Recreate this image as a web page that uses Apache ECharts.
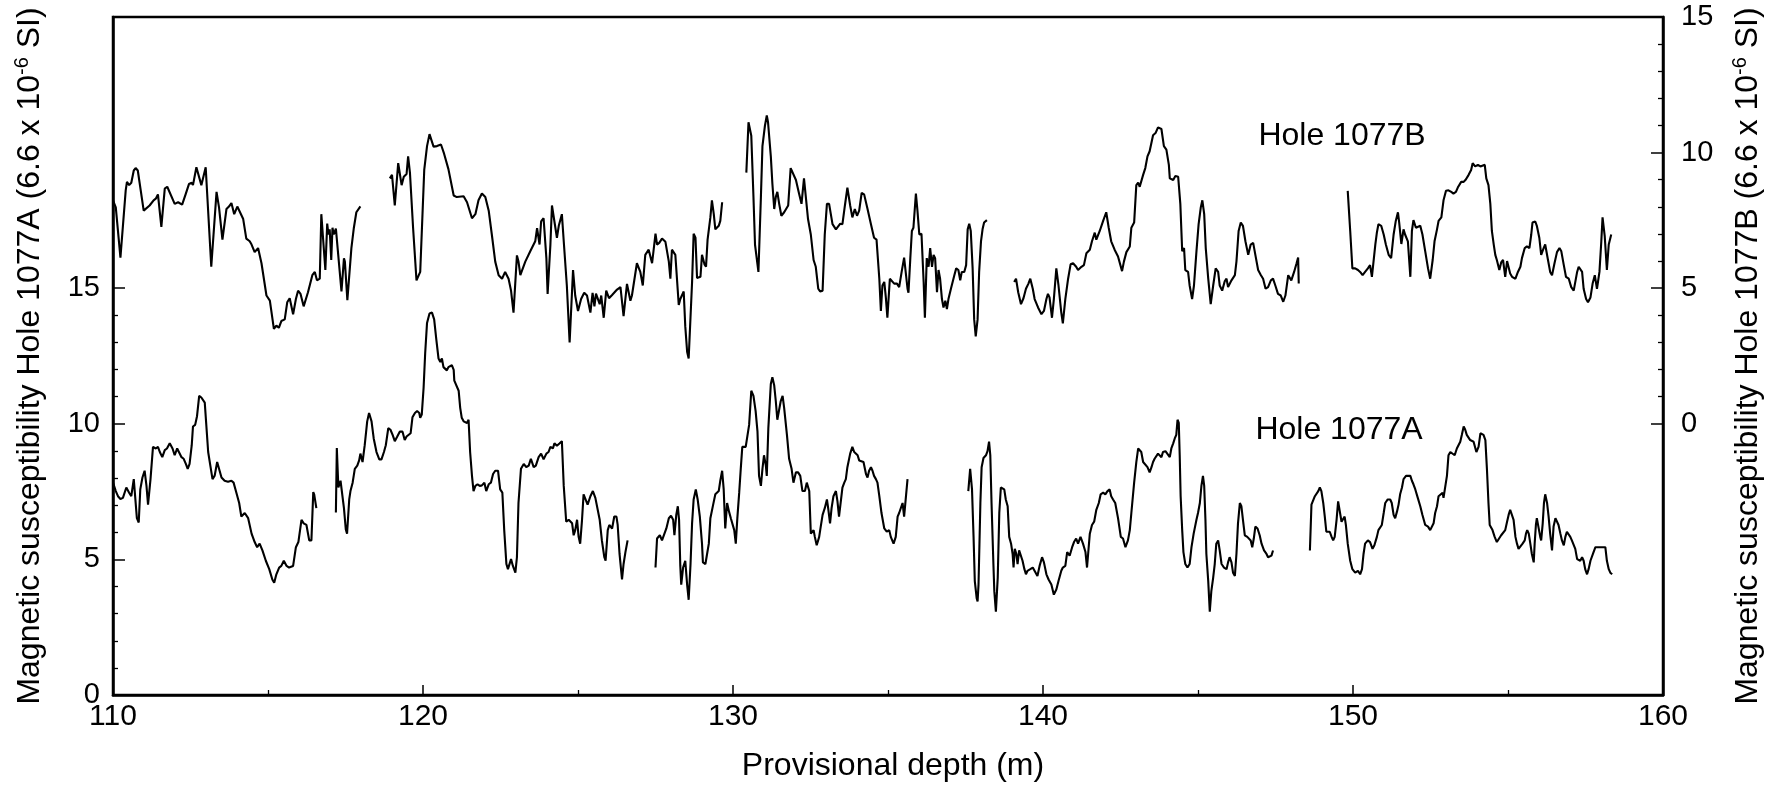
<!DOCTYPE html>
<html><head><meta charset="utf-8">
<script src="https://cdn.jsdelivr.net/npm/echarts@6/dist/echarts.min.js"></script>
<style>html,body{margin:0;padding:0;background:#fff}#c{width:1773px;height:791px}</style>
</head><body><div id="c"></div>
<script>
// ---- Axis ticks / labels ----
const xMajorTicks = [110, 120, 130, 140, 150, 160];
const yLabelTicks = [0, 5, 10, 15];
const yMinorTicks = [1, 2, 3, 4, 6, 7, 8, 9, 11, 12, 13, 14];
const labelHoleA = 'Hole 1077A';
const labelHoleB = 'Hole 1077B';

// ---- Hole 1077B (right axis), [depth m, susceptibility] per core segment ----
const holeB_seg1 = [[110.00,8.24],[110.09,7.98],[110.24,6.13],[110.30,6.17],[110.41,8.61],[110.45,8.92],[110.52,8.80],[110.59,8.89],[110.67,9.34],[110.73,9.43],[110.80,9.34],[110.86,9.36],[110.99,7.86],[111.18,8.05],[111.31,8.24],[111.38,8.30],[111.45,8.46],[111.56,7.26],[111.67,8.67],[111.75,8.74],[111.99,8.11],[112.10,8.17],[112.23,8.08],[112.35,8.49],[112.45,8.84],[112.54,8.89],[112.58,8.80],[112.69,9.46],[112.74,9.43],[112.85,8.80],[112.99,9.46],[113.17,5.79],[113.34,8.55],[113.42,7.98],[113.53,6.79],[113.66,7.92],[113.74,8.01],[113.82,8.14],[113.91,7.73],[114.01,8.01],[114.20,7.55],[114.30,6.83],[114.41,6.73],[114.47,6.61],[114.57,6.33],[114.68,6.48],[114.79,5.92],[114.95,4.73],[115.06,4.54],[115.19,3.50],[115.27,3.62],[115.35,3.54],[115.43,3.79],[115.54,3.85],[115.62,4.48],[115.70,4.63],[115.81,4.04],[115.90,4.60],[115.97,4.91],[116.05,4.79],[116.15,4.33],[116.29,4.85],[116.43,5.48],[116.51,5.60],[116.58,5.29],[116.67,5.35],[116.72,7.73],[116.78,7.80],[116.85,5.67],[116.91,7.38],[116.95,6.98],[116.99,7.17],[117.04,6.04],[117.08,7.23],[117.12,6.98],[117.19,7.20],[117.25,7.21],[117.37,4.88],[117.45,6.10],[117.48,5.98],[117.56,4.56],[117.69,6.48],[117.77,7.23],[117.85,7.80],[117.98,8.02]];
const holeB_seg2 = [[118.93,9.05],[119.00,9.18],[119.09,8.05],[119.20,9.61],[119.31,8.80],[119.38,9.11],[119.47,9.21],[119.52,9.86],[119.58,9.24],[119.68,7.23],[119.79,5.29],[119.84,5.23],[119.91,5.60],[120.04,9.36],[120.13,10.24],[120.21,10.68],[120.27,10.64],[120.34,10.22],[120.45,10.24],[120.58,10.30],[120.68,9.96],[120.82,9.39],[120.99,8.42],[121.09,8.36],[121.31,8.39],[121.42,8.17],[121.58,7.58],[121.69,7.73],[121.79,8.24],[121.90,8.49],[122.01,8.36],[122.12,7.86],[122.22,6.98],[122.33,5.98],[122.44,5.48],[122.55,5.35],[122.65,5.60],[122.76,5.35],[122.84,4.91],[122.92,4.10],[123.03,6.21],[123.08,5.98],[123.14,5.48],[123.19,5.54],[123.30,5.98],[123.35,6.04],[123.46,6.36],[123.62,6.73],[123.68,7.21],[123.73,7.17],[123.76,6.61],[123.81,7.46],[123.89,7.58],[123.98,6.11],[124.02,4.79],[124.11,6.61],[124.16,8.05],[124.21,7.98],[124.32,6.86],[124.38,7.30],[124.43,7.36],[124.48,7.73],[124.54,6.73],[124.64,5.10],[124.73,3.00],[124.84,5.67],[124.91,4.73],[125.00,4.16],[125.10,4.60],[125.20,4.83],[125.29,4.73],[125.40,4.10],[125.47,4.83],[125.53,4.33],[125.58,4.80],[125.64,4.83],[125.70,4.41],[125.75,4.73],[125.83,3.91],[125.91,4.91],[126.00,4.63],[126.10,4.75],[126.26,4.95],[126.37,5.04],[126.47,3.97],[126.58,5.16],[126.69,4.54],[126.74,4.73],[126.80,4.73],[126.90,5.92],[127.01,5.60],[127.09,5.10],[127.17,6.23],[127.28,6.42],[127.39,5.92],[127.50,7.01],[127.55,6.61],[127.62,6.67],[127.71,6.83],[127.82,6.71],[127.93,5.98],[127.98,5.35],[128.03,6.42],[128.14,6.23],[128.25,4.38],[128.30,4.60],[128.41,4.88],[128.46,3.60],[128.52,2.66],[128.57,2.41],[128.68,5.23],[128.73,7.01],[128.79,6.86],[128.84,5.38],[128.89,5.42],[128.95,5.42],[129.00,6.23],[129.08,5.88],[129.13,5.79],[129.18,6.79],[129.27,7.61],[129.32,8.24],[129.38,7.73],[129.43,7.17],[129.54,7.30],[129.59,7.48],[129.65,8.17]];
const holeB_seg3 = [[130.43,9.26],[130.50,11.12],[130.54,11.14],[130.59,10.62],[130.66,8.36],[130.71,6.61],[130.76,6.61],[130.82,5.60],[130.90,8.36],[130.95,10.24],[131.03,10.99],[131.09,11.37],[131.13,11.12],[131.22,9.86],[131.27,8.86],[131.33,7.92],[131.38,8.36],[131.43,8.55],[131.49,8.11],[131.56,7.67],[131.65,7.80],[131.78,8.05],[131.86,9.43],[131.92,9.49],[132.03,8.99],[132.13,8.49],[132.21,8.11],[132.29,9.05],[132.35,9.11],[132.42,7.55],[132.51,6.98],[132.60,6.04],[132.67,5.79],[132.75,4.98],[132.81,4.88],[132.89,4.91],[132.96,6.98],[133.03,8.11],[133.10,8.11],[133.21,7.36],[133.32,7.17],[133.37,7.11],[133.46,7.38],[133.53,7.36],[133.61,8.05],[133.69,8.71],[133.78,8.05],[133.85,7.61],[133.93,7.92],[134.00,7.67],[134.07,7.86],[134.15,8.51],[134.23,8.46],[134.34,7.92],[134.45,7.36],[134.55,6.86],[134.63,6.79],[134.72,5.35],[134.77,4.16],[134.82,5.10],[134.88,5.23],[134.93,4.66],[134.98,3.91],[135.06,5.35],[135.11,5.42],[135.20,5.17],[135.29,5.17],[135.36,5.04],[135.44,5.60],[135.52,6.13],[135.58,6.17],[135.63,4.98],[135.66,4.83],[135.72,6.11],[135.77,7.11],[135.82,7.23],[135.90,8.49],[135.95,7.86],[136.01,6.98],[136.08,7.01],[136.15,5.23],[136.19,3.91],[136.25,6.11],[136.31,5.79],[136.36,6.48],[136.42,5.79],[136.47,6.23],[136.52,6.11],[136.58,4.85],[136.63,5.67],[136.68,5.35],[136.74,4.60],[136.79,4.29],[136.85,4.54],[136.90,4.23],[136.95,4.60],[137.03,4.98],[137.14,5.48],[137.20,5.73],[137.27,5.67],[137.33,5.29],[137.38,5.60],[137.46,5.60],[137.52,5.85],[137.57,7.17],[137.62,7.38],[137.67,7.11],[137.73,5.73],[137.78,3.85],[137.83,3.22],[137.89,3.85],[137.94,5.60],[138.00,6.73],[138.05,7.17],[138.10,7.42],[138.19,7.51]];
const holeB_seg4 = [[139.07,5.23],[139.13,5.35],[139.20,4.85],[139.29,4.41],[139.37,4.63],[139.45,4.98],[139.53,5.17],[139.59,5.35],[139.67,4.98],[139.73,4.60],[139.84,4.29],[139.95,4.04],[140.03,4.16],[140.11,4.60],[140.16,4.79],[140.21,4.66],[140.29,3.91],[140.35,4.60],[140.43,5.73],[140.50,5.10],[140.59,4.10],[140.64,3.70],[140.72,4.60],[140.81,5.35],[140.89,5.88],[140.97,5.92],[141.07,5.79],[141.13,5.67],[141.24,5.79],[141.32,5.85],[141.40,6.29],[141.51,6.42],[141.58,6.73],[141.67,7.05],[141.72,6.79],[141.83,7.11],[141.94,7.48],[142.04,7.80],[142.12,7.23],[142.20,6.73],[142.31,6.42],[142.42,6.17],[142.55,5.63],[142.61,5.98],[142.69,6.33],[142.80,6.54],[142.85,7.23],[142.94,7.42],[143.01,8.80],[143.07,8.89],[143.12,8.74],[143.23,9.18],[143.30,9.43],[143.37,9.86],[143.44,10.05],[143.55,10.64],[143.63,10.72],[143.71,10.93],[143.76,10.99],[143.82,10.87],[143.90,10.24],[143.98,10.11],[144.06,9.55],[144.09,9.05],[144.20,8.99],[144.27,9.14],[144.36,9.11],[144.43,8.11],[144.49,6.36],[144.55,6.48],[144.59,5.67],[144.68,5.60],[144.73,5.10],[144.81,4.60],[144.87,5.10],[144.95,6.36],[145.02,7.36],[145.09,7.98],[145.14,8.24],[145.20,7.73],[145.25,6.48],[145.33,5.35],[145.41,4.41],[145.49,5.10],[145.57,5.73],[145.65,5.60],[145.70,5.10],[145.78,4.91],[145.86,5.25],[145.92,5.35],[145.97,5.04],[146.08,5.29],[146.19,5.48],[146.24,5.98],[146.31,7.11],[146.38,7.42],[146.45,7.30],[146.53,6.73],[146.62,6.23],[146.70,6.61],[146.78,6.67],[146.85,6.23],[146.94,5.67],[147.03,5.48],[147.10,5.35],[147.18,4.98],[147.26,5.04],[147.35,5.29],[147.42,5.35],[147.50,5.08],[147.58,4.79],[147.67,4.73],[147.75,4.50],[147.82,4.73],[147.91,5.48],[147.96,5.54],[148.01,5.29],[148.10,5.60],[148.18,5.92],[148.23,6.13],[148.25,5.17]];
const holeB_seg5 = [[149.83,8.59],[149.91,7.11],[149.98,5.73],[150.07,5.73],[150.16,5.67],[150.23,5.60],[150.31,5.48],[150.39,5.60],[150.48,5.73],[150.55,5.85],[150.61,5.42],[150.66,5.42],[150.72,6.61],[150.77,7.05],[150.82,7.36],[150.91,7.30],[150.99,6.98],[151.06,6.61],[151.15,6.23],[151.23,6.11],[151.31,6.98],[151.38,7.48],[151.45,7.80],[151.49,7.42],[151.56,6.63],[151.63,7.17],[151.68,6.98],[151.77,6.73],[151.85,5.42],[151.90,7.11],[151.95,7.51],[152.03,7.23],[152.09,7.17],[152.17,7.30],[152.24,6.98],[152.33,6.36],[152.42,5.73],[152.49,5.35],[152.57,6.04],[152.63,6.73],[152.71,7.17],[152.76,7.48],[152.85,7.61],[152.92,8.24],[153.00,8.59],[153.08,8.61],[153.17,8.55],[153.24,8.49],[153.32,8.55],[153.38,8.71],[153.43,8.67],[153.49,8.92],[153.57,8.92],[153.64,9.01],[153.73,9.18],[153.81,9.36],[153.86,9.61],[153.94,9.49],[154.03,9.55],[154.11,9.49],[154.25,9.55],[154.30,9.05],[154.37,8.80],[154.43,8.11],[154.48,7.11],[154.54,6.61],[154.59,6.23],[154.64,6.04],[154.72,5.67],[154.78,5.95],[154.84,6.04],[154.91,5.42],[154.97,6.00],[155.02,5.98],[155.07,5.54],[155.13,5.42],[155.24,5.35],[155.32,5.60],[155.40,5.79],[155.45,6.11],[155.54,6.48],[155.61,6.54],[155.69,6.48],[155.75,6.98],[155.79,7.42],[155.88,7.46],[155.93,7.30],[156.01,6.86],[156.07,6.23],[156.15,6.48],[156.20,6.61],[156.29,6.04],[156.36,5.60],[156.42,5.48],[156.50,5.92],[156.58,6.33],[156.66,6.48],[156.72,6.36],[156.80,5.85],[156.87,5.42],[156.96,5.35],[157.04,5.04],[157.12,4.91],[157.17,4.98],[157.23,5.60],[157.28,5.79],[157.33,5.85],[157.39,5.60],[157.44,4.98],[157.52,4.60],[157.58,4.48],[157.66,4.66],[157.73,5.17],[157.80,5.48],[157.87,4.98],[157.95,5.60],[158.01,6.73],[158.05,7.61],[158.12,6.92],[158.19,5.67],[158.25,6.61],[158.33,6.98]];

// ---- Hole 1077A (left axis) ----
const holeA_seg1 = [[110.00,7.83],[110.09,7.52],[110.16,7.33],[110.24,7.23],[110.32,7.27],[110.43,7.65],[110.52,7.46],[110.59,7.33],[110.67,7.96],[110.73,7.98],[110.77,6.52],[110.83,6.36],[110.88,7.58],[110.95,8.02],[111.02,8.27],[111.08,7.71],[111.13,7.02],[111.21,7.96],[111.29,9.15],[111.38,9.09],[111.45,9.15],[111.51,8.96],[111.59,8.77],[111.67,9.03],[111.74,9.09],[111.83,9.28],[111.92,9.09],[111.99,8.84],[112.07,9.09],[112.13,9.03],[112.21,8.77],[112.28,8.71],[112.35,8.52],[112.41,8.34],[112.47,8.52],[112.54,9.21],[112.58,9.90],[112.65,9.96],[112.71,10.28],[112.78,11.03],[112.85,10.97],[112.96,10.78],[113.07,8.96],[113.14,8.46],[113.21,7.96],[113.28,8.09],[113.36,8.59],[113.42,8.52],[113.50,8.02],[113.60,7.90],[113.71,7.86],[113.82,7.90],[113.89,7.83],[113.98,7.46],[114.07,7.08],[114.14,6.58],[114.25,6.71],[114.36,6.52],[114.47,5.95],[114.57,5.64],[114.65,5.45],[114.73,5.58],[114.82,5.33],[114.93,4.95],[115.04,4.64],[115.14,4.26],[115.20,4.14],[115.27,4.45],[115.36,4.70],[115.43,4.76],[115.51,4.95],[115.60,4.76],[115.68,4.70],[115.81,4.76],[115.90,5.45],[115.98,5.64],[116.08,6.46],[116.15,6.33],[116.24,6.27],[116.33,5.70],[116.40,5.70],[116.46,7.48],[116.49,7.40],[116.56,6.89]];
const holeA_seg2 = [[117.19,6.73],[117.22,9.11],[117.27,7.65],[117.34,7.90],[117.38,7.90],[117.45,6.89],[117.51,6.10],[117.55,5.95],[117.62,7.21],[117.66,7.52],[117.73,7.83],[117.80,8.34],[117.88,8.46],[117.94,8.65],[117.98,8.90],[118.05,8.59],[118.12,9.21],[118.20,10.09],[118.26,10.40],[118.34,10.09],[118.41,9.46],[118.50,8.96],[118.59,8.69],[118.66,8.69],[118.74,8.96],[118.80,9.21],[118.88,9.84],[118.95,9.78],[119.02,9.59],[119.09,9.36],[119.17,9.53],[119.25,9.71],[119.34,9.71],[119.41,9.40],[119.47,9.53],[119.52,9.53],[119.60,9.65],[119.66,10.24],[119.74,10.40],[119.81,10.47],[119.88,10.40],[119.91,10.22],[119.96,10.34],[120.02,11.34],[120.07,12.60],[120.13,13.72],[120.21,14.07],[120.29,14.10],[120.36,13.85],[120.43,13.10],[120.50,12.41],[120.56,12.28],[120.61,12.41],[120.66,12.09],[120.72,12.16],[120.77,11.97],[120.82,12.09],[120.88,12.09],[120.93,12.16],[120.99,11.99],[121.01,11.59],[121.07,11.53],[121.15,11.22],[121.20,10.59],[121.25,10.22],[121.31,10.09],[121.36,10.15],[121.42,10.03],[121.47,10.15],[121.52,8.96],[121.58,8.08],[121.63,7.52],[121.69,7.71],[121.76,7.77],[121.83,7.71],[121.90,7.73],[121.98,7.83],[122.04,7.52],[122.12,7.77],[122.19,7.83],[122.26,8.15],[122.33,8.27],[122.42,8.27],[122.49,7.58],[122.56,7.46],[122.62,6.08],[122.69,4.83],[122.74,4.64],[122.79,4.70],[122.84,5.01],[122.90,4.76],[122.98,4.51],[123.03,5.08],[123.08,7.08],[123.16,8.34],[123.25,8.52],[123.33,8.40],[123.41,8.46],[123.48,8.71],[123.57,8.40],[123.64,8.46],[123.73,8.77],[123.81,8.90],[123.89,8.69],[123.98,8.90],[124.05,8.96],[124.11,9.15],[124.19,9.09],[124.24,9.28],[124.32,9.19],[124.41,9.28],[124.48,9.36],[124.54,7.71],[124.62,6.39],[124.70,6.46],[124.81,6.33],[124.86,5.89],[124.91,6.08],[124.97,6.46],[125.02,5.83],[125.07,5.58],[125.13,6.46],[125.18,7.40],[125.24,7.43],[125.31,7.02],[125.40,7.33],[125.48,7.52],[125.56,7.27],[125.61,7.21],[125.70,6.46],[125.77,5.70],[125.85,5.08],[125.89,4.95],[125.96,6.08],[126.01,6.27],[126.10,6.14],[126.17,6.58],[126.24,6.58],[126.28,6.27],[126.34,5.20],[126.42,4.26],[126.47,4.83],[126.53,5.27],[126.60,5.70]];
const holeA_seg3 = [[127.50,4.70],[127.55,5.77],[127.64,5.89],[127.71,5.70],[127.76,5.70],[127.85,6.14],[127.93,6.52],[128.00,6.61],[128.07,6.46],[128.11,5.89],[128.17,6.64],[128.22,6.96],[128.26,6.46],[128.30,4.76],[128.33,4.07],[128.39,4.70],[128.46,4.95],[128.52,4.07],[128.57,3.51],[128.63,4.83],[128.68,6.33],[128.73,7.21],[128.80,7.58],[128.86,7.21],[128.93,6.58],[129.00,5.58],[129.03,4.89],[129.11,4.83],[129.16,4.83],[129.22,5.58],[129.27,6.52],[129.36,7.02],[129.43,7.40],[129.49,7.33],[129.54,7.52],[129.59,7.90],[129.65,8.27],[129.70,7.58],[129.75,6.14],[129.81,7.08],[129.87,6.77],[129.93,6.52],[129.98,6.58],[130.04,6.08],[130.09,5.58],[130.14,6.52],[130.20,7.46],[130.25,8.34],[130.30,9.15],[130.41,9.15],[130.47,9.21],[130.52,9.96],[130.59,11.22],[130.66,11.03],[130.73,10.47],[130.79,9.71],[130.84,8.08],[130.90,7.71],[130.95,8.34],[131.00,8.84],[131.06,8.46],[131.09,8.08],[131.14,9.84],[131.22,11.47],[131.27,11.72],[131.33,11.41],[131.38,10.84],[131.43,10.15],[131.49,10.12],[131.54,10.84],[131.60,11.03],[131.65,10.59],[131.74,9.59],[131.81,8.71],[131.89,8.34],[131.95,7.83],[132.03,8.21],[132.10,8.21],[132.17,8.08],[132.24,7.52],[132.32,7.52],[132.38,7.83],[132.46,7.52],[132.51,5.95],[132.56,5.95],[132.60,6.08],[132.64,5.83],[132.70,5.52],[132.78,5.83],[132.83,6.21],[132.89,6.64],[132.96,6.89],[133.03,7.21],[133.07,6.89],[133.13,6.33],[133.18,6.89],[133.24,7.33],[133.32,7.52],[133.37,7.14],[133.42,6.58],[133.48,6.52],[133.53,7.65],[133.59,7.83],[133.64,7.96],[133.69,8.40],[133.78,8.90],[133.85,9.15],[133.91,8.96],[133.96,8.96],[134.02,8.84],[134.07,8.65],[134.12,8.71],[134.21,8.59],[134.29,8.15],[134.34,8.02],[134.39,8.27],[134.45,8.40],[134.50,8.27],[134.55,8.08],[134.61,7.96],[134.66,7.83],[134.72,7.33],[134.79,6.71],[134.88,6.14],[134.96,6.02],[135.04,6.08],[135.09,5.83],[135.18,5.58],[135.25,5.83],[135.31,6.58],[135.36,6.71],[135.42,6.64],[135.47,7.08],[135.52,6.58],[135.58,6.52],[135.63,7.96]];
const holeA_seg4 = [[137.59,7.52],[137.65,8.34],[137.71,7.58],[137.76,5.83],[137.80,4.20],[137.86,3.57],[137.89,3.45],[137.92,4.07],[137.98,7.08],[138.02,8.40],[138.08,8.74],[138.16,8.84],[138.21,8.99],[138.26,9.34],[138.30,8.84],[138.34,7.08],[138.40,4.83],[138.43,3.82],[138.48,3.07],[138.54,4.33],[138.59,6.71],[138.64,7.65],[138.70,7.71],[138.75,7.58],[138.80,7.21],[138.86,6.96],[138.91,5.83],[138.97,5.58],[139.02,5.20],[139.05,4.70],[139.09,5.39],[139.14,5.20],[139.18,4.83],[139.23,5.33],[139.29,5.33],[139.34,4.95],[139.40,4.64],[139.45,4.45],[139.50,4.58],[139.59,4.64],[139.67,4.70],[139.73,4.64],[139.82,4.39],[139.89,4.76],[139.97,5.08],[140.03,4.89],[140.11,4.45],[140.18,4.26],[140.27,4.07],[140.35,3.70],[140.43,3.89],[140.50,4.20],[140.59,4.58],[140.64,4.70],[140.72,4.76],[140.78,5.27],[140.86,5.14],[140.94,5.45],[141.00,5.64],[141.07,5.77],[141.13,5.58],[141.21,5.83],[141.29,5.58],[141.37,5.27],[141.42,4.70],[141.45,4.64],[141.51,5.95],[141.58,6.27],[141.65,6.39],[141.72,6.83],[141.80,7.08],[141.86,7.40],[141.94,7.46],[142.01,7.40],[142.08,7.52],[142.15,7.58],[142.20,7.33],[142.26,7.21],[142.33,7.08],[142.42,6.52],[142.51,5.83],[142.58,5.77],[142.66,5.45],[142.74,5.70],[142.80,6.08],[142.85,6.71],[142.94,7.83],[143.01,8.59],[143.07,9.09],[143.12,9.15],[143.17,8.96],[143.23,8.59],[143.28,8.52],[143.37,8.40],[143.44,8.21],[143.50,8.40],[143.55,8.59],[143.60,8.71],[143.66,8.77],[143.71,8.90],[143.76,8.96],[143.82,8.77],[143.87,8.96],[143.95,8.99],[144.01,8.96],[144.09,8.77],[144.14,9.09],[144.20,9.28],[144.25,9.46],[144.30,9.59],[144.34,10.15],[144.38,10.03],[144.41,8.84],[144.44,7.33],[144.49,6.08],[144.53,5.27],[144.59,4.83],[144.66,4.70],[144.73,4.83],[144.79,5.45],[144.86,5.95],[144.95,6.46],[145.00,6.71],[145.06,7.08],[145.11,7.71],[145.16,8.08],[145.20,7.71],[145.24,6.46],[145.27,5.20],[145.33,4.20],[145.38,3.07],[145.43,3.83],[145.49,4.33],[145.54,4.83],[145.59,5.58],[145.65,5.70],[145.70,5.33],[145.76,4.83],[145.84,4.70],[145.92,4.64],[145.97,4.89],[146.02,5.08],[146.08,4.89],[146.13,4.51],[146.19,4.39],[146.24,5.20],[146.29,6.33],[146.35,7.08],[146.40,6.96],[146.45,6.46],[146.51,5.89],[146.59,5.83],[146.65,5.89],[146.70,5.70],[146.75,5.45],[146.80,5.77],[146.85,6.21],[146.92,6.14],[146.99,5.89],[147.05,5.58],[147.13,5.33],[147.21,5.20],[147.26,5.08],[147.32,5.01],[147.37,5.14],[147.42,5.33]];
const holeA_seg5 = [[148.61,5.33],[148.66,7.02],[148.71,6.96],[148.77,7.33],[148.82,7.27],[148.88,7.52],[148.93,7.65],[148.98,7.52],[149.04,7.08],[149.09,6.58],[149.14,6.02],[149.20,5.95],[149.25,6.02],[149.31,5.83],[149.36,5.70],[149.41,5.83],[149.47,6.46],[149.52,7.14],[149.58,7.08],[149.63,6.39],[149.73,6.58],[149.77,6.27],[149.83,5.58],[149.91,4.95],[149.98,4.64],[150.07,4.51],[150.16,4.58],[150.23,4.45],[150.29,4.64],[150.34,5.20],[150.39,5.58],[150.48,5.70],[150.55,5.64],[150.63,5.39],[150.69,5.52],[150.77,5.83],[150.82,6.08],[150.88,6.02],[150.93,6.27],[150.99,6.71],[151.04,7.08],[151.12,7.21],[151.20,7.21],[151.25,7.08],[151.31,6.64],[151.36,6.52],[151.42,6.77],[151.47,7.02],[151.52,7.40],[151.58,7.65],[151.63,7.96],[151.71,8.08],[151.77,8.02],[151.85,8.08],[151.90,7.90],[151.95,7.77],[152.01,7.58],[152.09,7.27],[152.17,6.96],[152.24,6.64],[152.33,6.27],[152.42,6.21],[152.49,6.08],[152.55,6.14],[152.60,6.33],[152.65,6.71],[152.71,6.96],[152.76,7.33],[152.81,7.40],[152.89,7.46],[152.92,7.27],[152.98,7.27],[153.03,8.08],[153.08,8.84],[153.14,8.96],[153.19,8.90],[153.28,8.84],[153.35,9.09],[153.41,9.09],[153.46,9.34],[153.51,9.59],[153.57,9.90],[153.62,9.78],[153.67,9.59],[153.73,9.53],[153.78,9.40],[153.84,9.46],[153.89,9.34],[153.94,9.28],[153.98,8.96],[154.05,9.15],[154.11,9.65],[154.16,9.71],[154.21,9.59],[154.27,9.40],[154.32,8.34],[154.37,7.08],[154.41,6.27],[154.46,6.33],[154.50,6.08],[154.57,5.83],[154.64,5.64],[154.70,5.70],[154.78,5.89],[154.84,5.83],[154.91,6.08],[154.97,6.39],[155.02,6.64],[155.07,6.83],[155.13,6.77],[155.18,6.46],[155.24,5.83],[155.29,5.58],[155.34,5.39],[155.40,5.45],[155.47,5.58],[155.54,5.70],[155.58,5.95],[155.62,6.08],[155.67,5.95],[155.72,5.58],[155.77,5.20],[155.83,4.89],[155.86,5.58],[155.90,6.27],[155.93,6.52],[155.99,6.46],[156.04,5.83],[156.07,5.70],[156.12,6.33],[156.16,7.08],[156.20,7.40],[156.26,7.08],[156.31,6.58],[156.36,5.95],[156.42,5.33],[156.47,6.21],[156.53,6.52],[156.58,6.46],[156.63,6.27],[156.69,5.95],[156.74,5.70],[156.80,5.52],[156.85,5.83],[156.90,6.02],[156.96,6.02],[157.01,5.83],[157.06,5.70],[157.12,5.77],[157.17,5.39],[157.23,5.01],[157.28,5.01],[157.33,4.95],[157.39,5.08],[157.44,4.95],[157.49,4.64],[157.55,4.45],[157.60,4.64],[157.66,4.95],[157.71,5.01],[157.76,5.27],[157.82,5.45],[157.87,5.52],[157.92,5.45],[157.98,5.45],[158.03,5.45],[158.09,5.52],[158.14,5.45],[158.19,4.95],[158.25,4.64],[158.30,4.51],[158.36,4.45]];

const holeA_segments = [holeA_seg1, holeA_seg2, holeA_seg3, holeA_seg4, holeA_seg5];
const holeB_segments = [holeB_seg1, holeB_seg2, holeB_seg3, holeB_seg4, holeB_seg5];

const FONT = "'Liberation Sans', Arial, Helvetica, sans-serif";
const BLACK = '#000';
const GRID = { left: 113, right: 110, top: 17, bottom: 96 };

const chart = echarts.init(document.getElementById('c'), null, { renderer: 'canvas' });

function lineSeries(data, yIdx) {
  return {
    type: 'line', data: data, xAxisIndex: 0, yAxisIndex: yIdx,
    showSymbol: false, symbol: 'none', smooth: false, clip: true,
    lineStyle: { color: BLACK, width: 2.1 }, silent: true, animation: false
  };
}
const series = [];
holeA_segments.forEach(s => series.push(lineSeries(s, 0)));
holeB_segments.forEach(s => series.push(lineSeries(s, 1)));

const nameRich = {
  t: { fontSize: 32, fontFamily: FONT, color: BLACK, lineHeight: 36 },
  s: { fontSize: 20, fontFamily: FONT, color: BLACK, lineHeight: 22, verticalAlign: 'top' }
};

const option = {
  animation: false,
  backgroundColor: '#fff',
  grid: [
    Object.assign({ show: true, borderColor: BLACK, borderWidth: 2.5, backgroundColor: 'transparent' }, GRID),
    Object.assign({ show: false }, GRID)
  ],
  xAxis: [
    {
      type: 'value', gridIndex: 0, min: 110, max: 160, interval: 10, position: 'bottom',
      axisLine: { show: true, lineStyle: { color: BLACK, width: 2.5 } },
      axisTick: { show: true, inside: true, length: 10, lineStyle: { color: BLACK, width: 1.5 }, customValues: xMajorTicks },
      minorTick: { show: true, splitNumber: 2, length: 5, lineStyle: { color: BLACK, width: 1.3 } },
      axisLabel: { show: true, fontSize: 30, fontFamily: FONT, color: BLACK, margin: 7, customValues: xMajorTicks },
      splitLine: { show: false }, minorSplitLine: { show: false },
      name: 'Provisional depth (m)', nameLocation: 'middle', nameGap: 55,
      nameTextStyle: { fontSize: 32, fontFamily: FONT, color: BLACK, padding: [0, 0, 0, 10] }
    },
    { type: 'value', gridIndex: 1, min: 110, max: 160, show: false }
  ],
  yAxis: [
    {
      type: 'value', gridIndex: 0, position: 'left', min: 0, max: 25,
      axisLine: { show: true, lineStyle: { color: BLACK, width: 2.5 } },
      axisTick: { show: true, inside: true, length: 12, lineStyle: { color: BLACK, width: 1.5 }, customValues: yLabelTicks },
      axisLabel: { show: true, fontSize: 29, fontFamily: FONT, color: BLACK, margin: 13, customValues: yLabelTicks },
      splitLine: { show: false },
      name: '{t|Magnetic susceptibility Hole 1077A (6.6 x 10}{s|-6}{t| SI)}',
      nameLocation: 'middle', nameGap: 65, nameRotate: 90,
      nameTextStyle: { fontSize: 32, fontFamily: FONT, color: BLACK, rich: nameRich }
    },
    {
      type: 'value', gridIndex: 0, position: 'right', min: -10, max: 15,
      axisLine: { show: true, lineStyle: { color: BLACK, width: 2.5 } },
      axisTick: { show: true, inside: true, length: 12, lineStyle: { color: BLACK, width: 1.5 }, customValues: yLabelTicks },
      axisLabel: { show: true, fontSize: 29, fontFamily: FONT, color: BLACK, margin: 18, customValues: yLabelTicks },
      splitLine: { show: false },
      name: '{t|Magnetic susceptibility Hole 1077B (6.6 x 10}{s|-6}{t| SI)}',
      nameLocation: 'middle', nameGap: 67, nameRotate: 90,
      nameTextStyle: { fontSize: 32, fontFamily: FONT, color: BLACK, rich: nameRich }
    },
    {
      type: 'value', gridIndex: 1, position: 'left', min: 0, max: 25,
      axisLine: { show: false },
      axisTick: { show: true, inside: true, length: 5, lineStyle: { color: BLACK, width: 1.3 }, customValues: yMinorTicks },
      axisLabel: { show: false }, splitLine: { show: false }
    },
    {
      type: 'value', gridIndex: 1, position: 'right', min: -10, max: 15,
      axisLine: { show: false },
      axisTick: { show: true, inside: true, length: 5, lineStyle: { color: BLACK, width: 1.3 }, customValues: yMinorTicks },
      axisLabel: { show: false }, splitLine: { show: false }
    }
  ],
  graphic: [
    { type: 'text', x: 1342, y: 136, style: { text: labelHoleB, font: "32px 'Liberation Sans', Arial, sans-serif", fill: BLACK, align: 'center', verticalAlign: 'middle' } },
    { type: 'text', x: 1339, y: 430, style: { text: labelHoleA, font: "32px 'Liberation Sans', Arial, sans-serif", fill: BLACK, align: 'center', verticalAlign: 'middle' } }
  ],
  series: series
};
chart.setOption(option);
</script>
</body></html>
